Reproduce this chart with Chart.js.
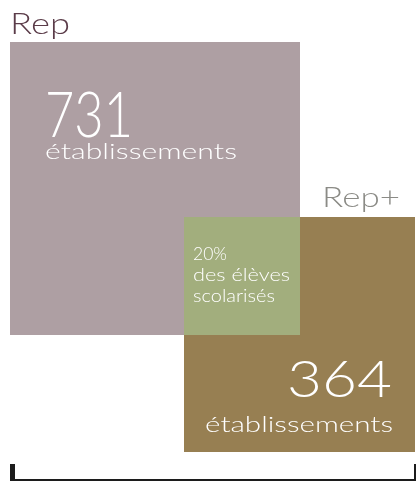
<!DOCTYPE html>
<html>
<head>
<meta charset="utf-8">
<script src="https://cdn.jsdelivr.net/npm/chart.js@4.4.1/dist/chart.umd.min.js"></script>
<style>
  html, body { margin: 0; padding: 0; background: #fff; }
  #wrap { width: 417px; height: 481px; }
</style>
</head>
<body>
<div id="wrap"><canvas id="c"></canvas></div>
<script>
// data
const groups = ["Rep", "Rep+"];
const establishments = [731, 364];
const unitLabel = "établissements";
const shareLines = ["20%", "des élèves", "scolarisés"];
// square extents in chart units (x from left, y from the axis up)
const squareX = [[0, 290], [174, 405]];
const squareY = [[144, 437], [27, 262]];
const colors = ["#ae9fa3", "#977f52"];
const overlapColor = "#a2ae7d";

// overlap of the two squares
const overlapX = [Math.max(squareX[0][0], squareX[1][0]), Math.min(squareX[0][1], squareX[1][1])];
const overlapY = [Math.max(squareY[0][0], squareY[1][0]), Math.min(squareY[0][1], squareY[1][1])];

// a square = top edge filled down to bottom edge
function squareSets(xs, ys, color, order) {
  const base = { showLine: true, pointRadius: 0, borderWidth: 0, borderColor: color, backgroundColor: color, order: order };
  return [
    Object.assign({}, base, { data: [{x: xs[0], y: ys[1]}, {x: xs[1], y: ys[1]}], fill: "+1" }),
    Object.assign({}, base, { data: [{x: xs[0], y: ys[0]}, {x: xs[1], y: ys[0]}], fill: false })
  ];
}

const datasets = [].concat(
  squareSets(overlapX, overlapY, overlapColor, 0),
  squareSets(squareX[1], squareY[1], colors[1], 1),
  squareSets(squareX[0], squareY[0], colors[0], 2)
);

// draw text squeezed/stretched to a given width
function fitText(ctx, text, x, y, font, color, width, align) {
  ctx.save();
  ctx.font = font;
  ctx.fillStyle = color;
  ctx.textBaseline = "alphabetic";
  ctx.textAlign = "left";
  const w = ctx.measureText(text).width;
  const sx = width / w;
  const left = align === "right" ? x - width : x;
  ctx.translate(left, y);
  ctx.scale(sx, 1);
  ctx.fillText(text, 0, 0);
  ctx.restore();
}

const labelsPlugin = {
  id: "labels",
  afterDatasetsDraw(chart) {
    const ctx = chart.ctx;
    const sx = chart.scales.x, sy = chart.scales.y;
    const px = v => sx.getPixelForValue(v);
    const py = v => sy.getPixelForValue(v);
    const ff = "Lato, 'Noto Sans', sans-serif";

    // group names above the squares
    fitText(ctx, groups[0], px(squareX[0][0]), py(squareY[0][1]) - 8, "300 29px " + ff, "#5b3c49", 60, "left");
    fitText(ctx, groups[1], px(squareX[1][1]) - 15, py(squareY[1][1]) - 10, "300 28px " + ff, "#8b8b86", 78, "right");

    // Rep counts
    let l = px(squareX[0][0]) + 35, t = py(squareY[0][1]);
    fitText(ctx, String(establishments[0]), l, t + 95, "300 64px " + ff, "#fff", 88, "left");
    fitText(ctx, unitLabel, l, t + 117, "300 22px " + ff, "#fff", 192, "left");

    // Rep+ counts
    let r = px(squareX[1][1]) - 22, b = py(squareY[1][0]);
    fitText(ctx, String(establishments[1]), r - 1, b - 55, "300 52px " + ff, "#fff", 105, "right");
    fitText(ctx, unitLabel, r, b - 20, "300 22px " + ff, "#fff", 188, "right");

    // overlap text
    const ol = px(overlapX[0]) + 9, ot = py(overlapY[1]);
    const widths = [34, 97, 82];
    shareLines.forEach((s, i) => {
      fitText(ctx, s, ol, ot + 43 + i * 21, "300 18px " + ff, "#fff", widths[i], "left");
    });
  }
};

const axisPlugin = {
  id: "axisLine",
  afterDraw(chart) {
    const ctx = chart.ctx;
    const sx = chart.scales.x, sy = chart.scales.y;
    const x0 = sx.getPixelForValue(sx.min), x1 = sx.getPixelForValue(sx.max);
    const y0 = sy.getPixelForValue(sy.min);
    ctx.save();
    ctx.fillStyle = "#1c1c1c";
    ctx.fillRect(x0, y0, x1 - x0 + 1, 2);
    ctx.fillRect(x0, y0 - 15, 5, 17);
    ctx.fillRect(x1 - 1, y0 - 15, 2, 17);
    ctx.restore();
  }
};

new Chart(document.getElementById("c"), {
  type: "scatter",
  data: { datasets: datasets },
  options: {
    responsive: true,
    maintainAspectRatio: false,
    animation: false,
    layout: { padding: { left: 10, right: 2, top: 42, bottom: 2 } },
    plugins: { legend: { display: false }, tooltip: { enabled: false } },
    scales: {
      x: { type: "linear", min: 0, max: 405, display: false },
      y: { type: "linear", min: 0, max: 437, display: false }
    }
  },
  plugins: [labelsPlugin, axisPlugin]
});
</script>
</body>
</html>
